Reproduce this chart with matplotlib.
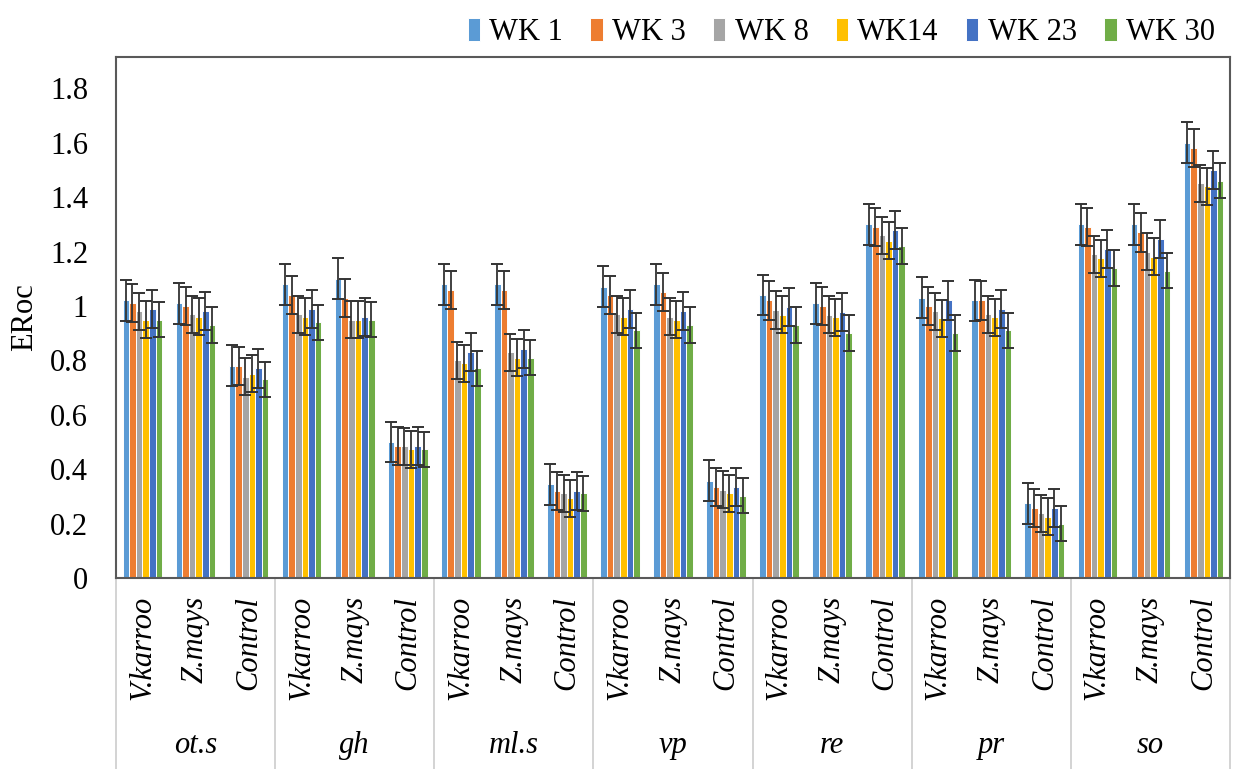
import matplotlib.pyplot as plt
import numpy as np

# groups and treatments on the two-level category axis
groups = ['ot.s', 'gh', 'ml.s', 'vp', 're', 'pr', 'so']
treatments = ['V.karroo', 'Z.mays', 'Control']

series_names = ['WK 1', 'WK 3', 'WK 8', 'WK14', 'WK 23', 'WK 30']
colors = ['#5B9BD5', '#ED7D31', '#A5A5A5', '#FFC000', '#4472C4', '#70AD47']

# values per series, ordered group by group (V.karroo, Z.mays, Control)
wk1 = [1.02, 1.01, 0.78, 1.08, 1.10, 0.50, 1.08, 1.08, 0.345, 1.07, 1.08, 0.357,
       1.04, 1.01, 1.30, 1.03, 1.02, 0.274, 1.30, 1.30, 1.60]
wk3 = [1.01, 1.00, 0.78, 1.04, 1.03, 0.485, 1.06, 1.06, 0.321, 1.04, 1.05, 0.336,
       1.02, 1.00, 1.29, 1.00, 1.02, 0.256, 1.29, 1.27, 1.58]
wk8 = [0.98, 0.97, 0.74, 0.97, 0.95, 0.485, 0.80, 0.83, 0.311, 0.97, 0.96, 0.324,
       0.985, 0.967, 1.26, 0.98, 0.97, 0.238, 1.19, 1.20, 1.45]
wk14 = [0.95, 0.96, 0.75, 0.96, 0.95, 0.473, 0.79, 0.81, 0.293, 0.96, 0.95, 0.311,
        0.967, 0.958, 1.24, 0.955, 0.958, 0.225, 1.175, 1.18, 1.44]
wk23 = [0.99, 0.98, 0.77, 0.99, 0.96, 0.486, 0.83, 0.84, 0.321, 0.99, 0.98, 0.336,
        0.995, 0.979, 1.28, 1.02, 0.988, 0.256, 1.21, 1.245, 1.50]
wk30 = [0.95, 0.93, 0.73, 0.94, 0.95, 0.473, 0.77, 0.81, 0.311, 0.91, 0.93, 0.303,
        0.93, 0.90, 1.22, 0.90, 0.91, 0.20, 1.14, 1.13, 1.46]
series = [wk1, wk3, wk8, wk14, wk23, wk30]

# error bar half-length per series
errors = [0.075, 0.07, 0.068, 0.068, 0.07, 0.065]

plt.rcParams['font.family'] = ['Liberation Serif', 'DejaVu Serif']
fs = 22

fig = plt.figure(figsize=(12.33, 7.69), dpi=100)
ax = fig.add_axes([0.094, 0.2484, 0.9036, 0.6775])

n_cat = len(groups) * len(treatments)
x = np.arange(n_cat)
slot = 0.125
for i, (vals, c) in enumerate(zip(series, colors)):
    pos = x + (i - 2.5) * slot
    ax.bar(pos, vals, width=slot, color=c, edgecolor='white', linewidth=0.7,
           label=series_names[i], zorder=2)
    ax.errorbar(pos, vals, yerr=errors[i], fmt='none', ecolor='#333333',
                elinewidth=1.3, capsize=4.5, capthick=1.4, zorder=3)

ax.set_xlim(-0.5, n_cat - 0.5)
ax.set_ylim(0, 1.915)
ax.set_yticks(np.arange(0, 1.81, 0.2))
ax.set_yticklabels(['%g' % round(v, 1) for v in np.arange(0, 1.81, 0.2)], fontsize=fs)
ax.tick_params(axis='y', length=0, pad=20)
ax.set_xticks([])
ax.set_ylabel('ERoc', fontsize=fs, labelpad=8)

for s in ax.spines.values():
    s.set_color('#595959')
    s.set_linewidth(1.5)

# two level category labels
for k in range(n_cat):
    ax.text(x[k], -0.035, treatments[k % 3], transform=ax.get_xaxis_transform(),
            rotation=90, ha='center', va='top', fontsize=fs, style='italic')
for g, name in enumerate(groups):
    ax.text(g * 3 + 1, -0.322, name, transform=ax.get_xaxis_transform(),
            ha='center', va='center', fontsize=fs, style='italic')
for g in range(len(groups) + 1):
    ax.plot([g * 3 - 0.5, g * 3 - 0.5], [0, -0.37], transform=ax.get_xaxis_transform(),
            color='#D0D0D0', linewidth=1.3, clip_on=False, zorder=1)

ax.legend(loc='upper right', bbox_to_anchor=(1.0, 1.0), bbox_transform=fig.transFigure,
          ncol=6, frameon=False, fontsize=fs, handlelength=0.4, handleheight=0.75,
          handletextpad=0.3, columnspacing=0.9, borderaxespad=0.2)

fig.savefig('out.png', dpi=100)
